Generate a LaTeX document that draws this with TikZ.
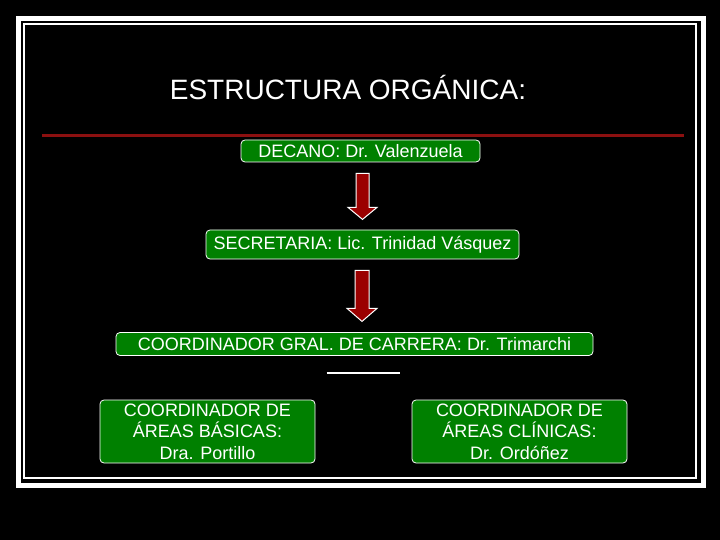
\documentclass[tikz,border=0pt]{standalone}
\usepackage{fontspec}
\setmainfont{Liberation Sans}
\usepackage{tikz}
\usetikzlibrary{calc}
\usetikzlibrary{arrows}
\definecolor{boxgreen}{RGB}{0,128,0}
\definecolor{linered}{RGB}{140,16,16}
\definecolor{arrowred}{RGB}{155,0,0}

\begin{document}
\begin{tikzpicture}[x=1pt,y=-1pt]
\tikzstyle{cargo}=[rectangle,rounded corners=4pt,draw=white,line width=0.8pt,fill=boxgreen,text=white,inner sep=0pt,align=center,font=\fontsize{18}{21.5}\selectfont]
\tikzstyle{flecha}=[fill=arrowred,draw=white,line width=1pt,line join=miter]
\useasboundingbox (0,0) rectangle (720,540);
\fill[black] (0,0) rectangle (720,540);
\draw[white,line width=5pt] (18.5,18.5) rectangle (703,485.5);
\draw[white,line width=2pt] (24,24) rectangle (696,478);
\node[text=white,font=\fontsize{28}{30}\selectfont] (titulo) at (348,87) {ESTRUCTURA ORGÁNICA:};
\coordinate (rojaA) at (42,136);
\coordinate (rojaB) at (684,136);
\draw[linered,line width=3pt] (rojaA) -- (rojaB);
\node[cargo,minimum width=239pt,minimum height=22pt] (decano) at (360.5,151) {DECANO: Dr. Valenzuela};
\node[cargo,minimum width=313pt,minimum height=29pt] (secre) at (362.5,244.5) {SECRETARIA: Lic. Trinidad Vásquez};
\node[cargo,minimum width=477pt,minimum height=23pt] (gral) at (354.5,344) {COORDINADOR GRAL. DE CARRERA: Dr. Trimarchi};
\node[cargo,minimum width=215pt,minimum height=63pt] (basicas) at (207.5,431.5) {COORDINADOR DE\\ÁREAS BÁSICAS:\\Dra. Portillo};
\node[cargo,minimum width=215pt,minimum height=63pt] (clinicas) at (519.5,431.5) {COORDINADOR DE\\ÁREAS CLÍNICAS:\\Dr. Ordóñez};
% flechas
\filldraw[flecha] ($(decano.south)+(-4.5,11)$) -- ++(13,0) -- ++(0,34) -- ++(8,0) -- ++(-14.5,12) -- ++(-14.5,-12) -- ++(8,0) -- cycle;
\filldraw[flecha] ($(secre.south)+(-7.5,11)$) -- ++(14,0) -- ++(0,38) -- ++(8,0) -- ++(-15,13) -- ++(-15,-13) -- ++(8,0) -- cycle;
\draw[white,line width=2pt] ($(gral.south)+(-28,17)$) -- ($(gral.south)+(45,17)$);
\end{tikzpicture}
\end{document}
